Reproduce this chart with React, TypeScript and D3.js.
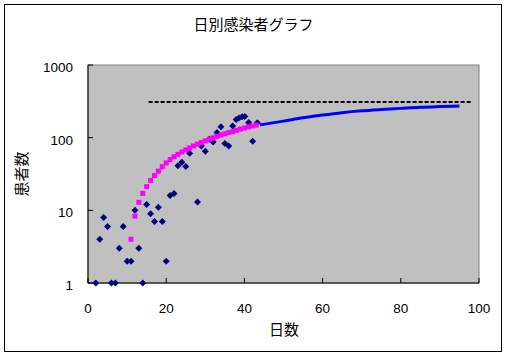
import React from "react";
import * as d3 from "d3";

const title = "日別感染者グラフ";
const xTitle = "日数";
const yTitle = "患者数";
const xTicks = [0, 20, 40, 60, 80, 100];
const yTicks = [1, 10, 100, 1000];

// observed daily cases (navy diamonds)
const obsDays = [2, 3, 4, 5, 6, 7, 8, 9, 10, 11, 12, 13, 14, 15, 16, 17, 18, 19, 20, 21, 22, 23, 24, 25, 26, 28, 29, 30, 31, 32, 33, 34, 35, 36, 37, 37.9, 38.6, 39.4, 40.1, 41.1, 42.1, 43.3];
const obsValues = [1, 4, 8, 6, 1, 1, 3, 6, 2, 2, 10, 3, 1, 12, 9, 7, 11, 7, 2, 16, 17, 41, 46, 40, 61, 13, 77, 65, 95, 87, 118, 141, 83, 77, 145, 178, 187, 194, 196, 162, 89, 160];

// fitted values (magenta squares)
const fitDays = [11, 12, 13, 14, 15, 16, 17, 18, 19, 20, 21, 22, 23, 24, 25, 26, 27, 28, 29, 30, 31, 32, 33, 34, 35, 36, 37, 38, 39, 40, 41, 42, 43];
const fitValues = [4, 8.3, 12.9, 17.1, 21.2, 25.7, 30.1, 34.7, 39.8, 45, 50, 54.6, 59, 63.6, 68, 72.4, 77, 81.6, 86, 90.3, 95, 99.5, 104, 108.6, 113, 117.4, 121, 126.5, 131, 135.6, 140, 144.5, 149];

// projection (blue line)
const projDays = [44, 50, 55, 60, 65, 70, 75, 80, 85, 90, 95];
const projValues = [150, 169, 188, 205, 221, 234, 244, 253, 262, 268, 273];

// reference level (dashed line)
const refDays = [15.5, 98.2];
const refValue = 310;

const W = 508;
const H = 358;
const plot = { left: 88, right: 479, top: 65, bottom: 283 };

export default function App() {
  const x = d3.scaleLinear().domain([0, 100]).range([plot.left, plot.right]);
  const y = d3.scaleLog().domain([1, 1000]).range([plot.bottom, plot.top]);

  const projLine = d3
    .line<number>()
    .x((_, i) => x(projDays[i]))
    .y((v) => y(v))
    .curve(d3.curveMonotoneX)(projValues);

  const r = 3.5;
  const diamond = `M0,${-r}L${r},0L0,${r}L${-r},0Z`;
  const numFont = "'Liberation Sans', Arial, sans-serif";
  const jpFont = "'Noto Sans CJK JP', sans-serif";

  return (
    <svg
      width={W}
      height={H}
      style={{ position: "absolute", left: 0, top: 0, background: "#fff" }}
    >
      <rect x={4.5} y={4.5} width={497} height={347} fill="#fff" stroke="#000" strokeWidth={1} />
      <text x={253.5} y={30} textAnchor="middle" fontFamily={jpFont} fontSize={15} fill="#000">
        {title}
      </text>

      <rect
        x={plot.left}
        y={plot.top}
        width={plot.right - plot.left}
        height={plot.bottom - plot.top}
        fill="#c0c0c0"
        stroke="#808080"
        strokeWidth={1}
      />

      {/* axes */}
      <line x1={plot.left} x2={plot.left} y1={plot.top} y2={plot.bottom} stroke="#000" />
      <line x1={plot.left} x2={plot.right} y1={plot.bottom} y2={plot.bottom} stroke="#000" />
      {yTicks.map((t) => (
        <g key={"y" + t}>
          <line x1={plot.left} x2={plot.left + 5} y1={y(t)} y2={y(t)} stroke="#000" />
          <text
            x={73}
            y={y(t) + 7}
            textAnchor="end"
            fontFamily={numFont}
            fontSize={13.5}
            fill="#000"
          >
            {t}
          </text>
        </g>
      ))}
      {xTicks.map((t) => (
        <g key={"x" + t}>
          <line x1={x(t)} x2={x(t)} y1={plot.bottom} y2={plot.bottom - 5} stroke="#000" />
          <text
            x={x(t)}
            y={313}
            textAnchor="middle"
            fontFamily={numFont}
            fontSize={13.5}
            fill="#000"
          >
            {t}
          </text>
        </g>
      ))}
      <text x={284} y={335} textAnchor="middle" fontFamily={jpFont} fontSize={15} fill="#000">
        {xTitle}
      </text>
      <text
        transform={`translate(27,174) rotate(-90)`}
        textAnchor="middle"
        fontFamily={jpFont}
        fontSize={15}
        fill="#000"
      >
        {yTitle}
      </text>

      {/* reference dashed line */}
      <line
        x1={x(refDays[0])}
        x2={x(refDays[1])}
        y1={y(refValue)}
        y2={y(refValue)}
        stroke="#000"
        strokeWidth={2}
        strokeDasharray="4,2"
      />

      {/* projection */}
      <path d={projLine || ""} fill="none" stroke="#0000ff" strokeWidth={3} />

      {/* observed */}
      {obsDays.map((d, i) => (
        <path
          key={"o" + i}
          d={diamond}
          transform={`translate(${x(d)},${y(obsValues[i])})`}
          fill="#000080"
        />
      ))}

      {/* fitted */}
      {fitDays.map((d, i) => (
        <rect
          key={"f" + i}
          x={x(d) - 2.5}
          y={y(fitValues[i]) - 2.5}
          width={5}
          height={5}
          fill="#ff00ff"
        />
      ))}
    </svg>
  );
}
